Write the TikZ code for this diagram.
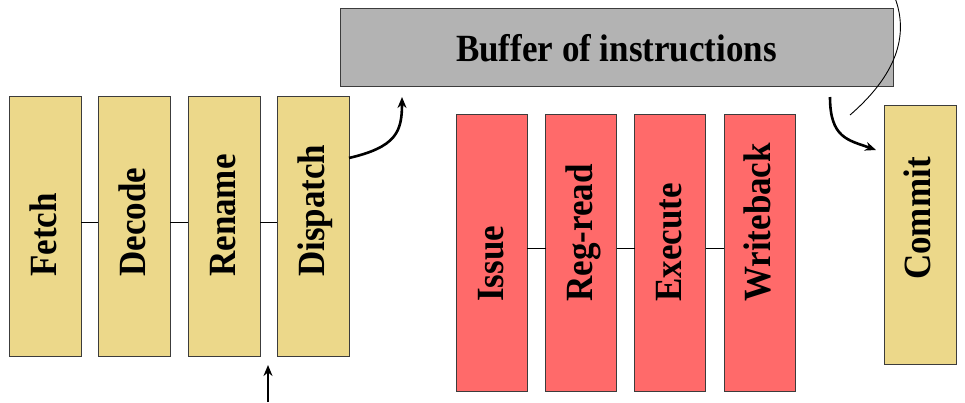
\documentclass[tikz,border=0pt]{standalone}
\usepackage{fontspec}
\setmainfont{Liberation Serif}
\usetikzlibrary{arrows.meta}
\definecolor{stageyellow}{RGB}{236,216,138}
\definecolor{stagered}{RGB}{255,106,106}
\definecolor{buffergray}{RGB}{179,179,179}
\definecolor{edgegray}{RGB}{60,60,60}
\tikzset{
  stagebox/.style={draw=edgegray, line width=1pt, minimum width=72pt, minimum height=260pt, inner sep=0pt, outer sep=0pt},
  ybox/.style={stagebox, fill=stageyellow},
  rbox/.style={stagebox, fill=stagered, minimum width=71pt, minimum height=277pt},
  stagelabel/.style={rotate=90, yscale=1.1, anchor=base west, inner sep=0pt, font=\fontsize{35}{40}\selectfont\bfseries},
  link/.style={line width=0.9pt},
  flow/.style={line width=2.6pt, -{Stealth[length=11pt,width=9pt]}},
  thinflow/.style={line width=0.9pt}
}
\begin{document}
\begin{tikzpicture}[x=1pt,y=-1pt]
\useasboundingbox (0,0) rectangle (965,402);
% buffer
\node[draw=edgegray, line width=1pt, fill=buffergray, minimum width=553pt, minimum height=78pt, inner sep=0pt] (buffer) at (616.5,47) {};
\node[anchor=base, yscale=1.1, inner sep=0pt, font=\fontsize{35}{40}\selectfont\bfseries] (buffertext) at (616.5,61) {Buffer of instructions};
% front-end stages
\node[ybox] (fetch) at (45,226) {};
\node[ybox] (decode) at (134,226) {};
\node[ybox] (rename) at (224,226) {};
\node[ybox] (dispatch) at (313,226) {};
\node[stagelabel] (fetchT) at (56,277) {Fetch};
\node[stagelabel] (decodeT) at (145,277) {Decode};
\node[stagelabel] (renameT) at (235,277) {Rename};
\node[stagelabel] (dispatchT) at (324,277) {Dispatch};
\draw[link] ([yshift=4pt]fetch.east) -- ([yshift=4pt]decode.west);
\draw[link] ([yshift=4pt]decode.east) -- ([yshift=4pt]rename.west);
\draw[link] ([yshift=4pt]rename.east) -- ([yshift=4pt]dispatch.west);
% back-end stages
\node[rbox] (issue) at (491.5,252.5) {};
\node[rbox] (regread) at (581,252.5) {};
\node[rbox] (execute) at (670,252.5) {};
\node[rbox] (writeback) at (759.5,252.5) {};
\node[stagelabel] (issueT) at (503,302) {Issue};
\node[stagelabel] (regreadT) at (592,302) {Reg-read};
\node[stagelabel] (executeT) at (681,302) {Execute};
\node[stagelabel] (writebackT) at (770.5,302) {Writeback};
\draw[link] ([yshift=4.5pt]issue.east) -- ([yshift=4.5pt]regread.west);
\draw[link] ([yshift=4.5pt]regread.east) -- ([yshift=4.5pt]execute.west);
\draw[link] ([yshift=4.5pt]execute.east) -- ([yshift=4.5pt]writeback.west);
% commit
\node[ybox, minimum height=259pt] (commit) at (920,234.5) {};
\node[stagelabel] (commitT) at (930,280) {Commit};
% arrows
\coordinate (inbottom) at (268,402);
\coordinate (intop) at (268,365);
\draw[flow] (inbottom) -- (intop);
\coordinate (dispout) at (349,158);
\coordinate (bufin) at (402,97);
\draw[flow] (dispout) .. controls (396,147) and (402,132) .. (bufin);
\coordinate (bufout) at (830,97);
\coordinate (commitin) at (876,150);
\draw[flow] (bufout) .. controls (830,138) and (848,140) .. (commitin);
\coordinate (loopstart) at (895,-2);
\coordinate (loopend) at (850,115);
\draw[thinflow] (loopstart) .. controls (907,30) and (902,70) .. (loopend);
\end{tikzpicture}
\end{document}
